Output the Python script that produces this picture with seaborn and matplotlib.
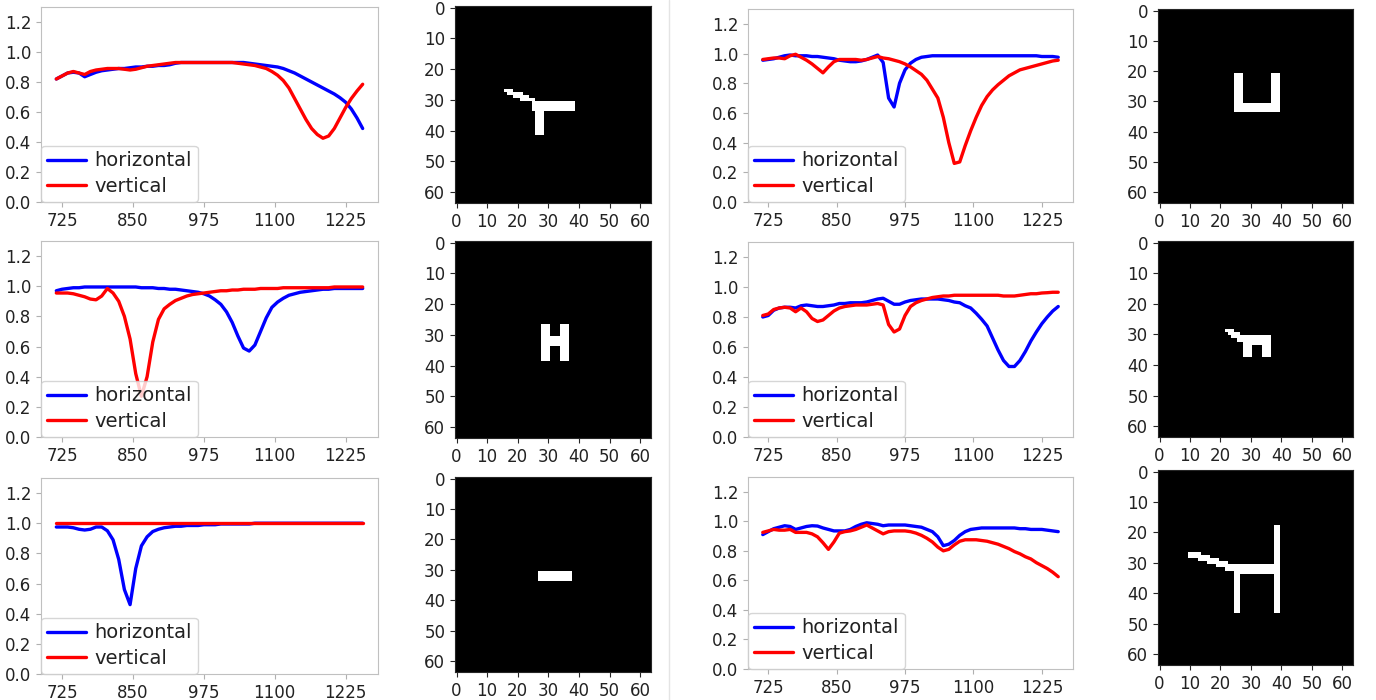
import numpy as np
import seaborn as sns
import matplotlib.pyplot as plt
from matplotlib.lines import Line2D

sns.set_style("white")
plt.rcParams['font.family'] = ['DejaVu Sans']

# wavelength grid shared by every transmission curve
wavelengths = list(range(715, 1256, 10))
xtick_vals = [725, 850, 975, 1100, 1225]
ytick_vals = [0.0, 0.2, 0.4, 0.6, 0.8, 1.0, 1.2]

# --- curves (horizontal / vertical polarisation) ---
bend_h = [0.82, 0.84, 0.86, 0.865, 0.86, 0.835, 0.85, 0.865, 0.875, 0.88, 0.885,
          0.89, 0.89, 0.895, 0.90, 0.90, 0.905, 0.905, 0.91, 0.91, 0.915, 0.925,
          0.93, 0.93, 0.93, 0.93, 0.93, 0.93, 0.93, 0.93, 0.93, 0.93, 0.93,
          0.93, 0.925, 0.92, 0.915, 0.91, 0.905, 0.90, 0.89, 0.875, 0.86, 0.84,
          0.82, 0.80, 0.78, 0.76, 0.74, 0.72, 0.695, 0.665, 0.62, 0.56, 0.49]
bend_v = [0.82, 0.84, 0.86, 0.87, 0.86, 0.85, 0.87, 0.88, 0.885, 0.89, 0.89,
          0.89, 0.885, 0.88, 0.885, 0.895, 0.905, 0.91, 0.915, 0.92, 0.925, 0.93,
          0.93, 0.93, 0.93, 0.93, 0.93, 0.93, 0.93, 0.93, 0.93, 0.93, 0.925,
          0.92, 0.915, 0.91, 0.90, 0.89, 0.87, 0.845, 0.81, 0.76, 0.69, 0.62,
          0.55, 0.49, 0.45, 0.425, 0.44, 0.49, 0.56, 0.63, 0.69, 0.74, 0.785]

u_h = [0.955, 0.96, 0.965, 0.975, 0.985, 0.99, 0.985, 0.985, 0.985, 0.98, 0.98,
       0.975, 0.97, 0.965, 0.955, 0.95, 0.945, 0.945, 0.95, 0.96, 0.975, 0.99,
       0.94, 0.70, 0.64, 0.80, 0.89, 0.935, 0.96, 0.975, 0.98, 0.985, 0.985,
       0.985, 0.985, 0.985, 0.985, 0.985, 0.985, 0.985, 0.985, 0.985, 0.985, 0.985,
       0.985, 0.985, 0.985, 0.985, 0.985, 0.985, 0.985, 0.98, 0.98, 0.98, 0.975]
u_v = [0.96, 0.965, 0.97, 0.97, 0.965, 0.985, 0.995, 0.975, 0.955, 0.93, 0.90,
       0.87, 0.91, 0.945, 0.96, 0.96, 0.96, 0.96, 0.955, 0.96, 0.97, 0.98,
       0.97, 0.965, 0.955, 0.945, 0.93, 0.91, 0.885, 0.86, 0.82, 0.76, 0.70,
       0.57, 0.40, 0.26, 0.27, 0.38, 0.48, 0.57, 0.65, 0.71, 0.755, 0.79,
       0.82, 0.85, 0.87, 0.89, 0.90, 0.91, 0.92, 0.93, 0.94, 0.95, 0.955]

hshape_h = [0.97, 0.98, 0.985, 0.99, 0.99, 0.995, 0.995, 0.995, 0.995, 0.995, 0.995,
            0.995, 0.995, 0.995, 0.995, 0.99, 0.99, 0.99, 0.985, 0.985, 0.98, 0.98,
            0.975, 0.97, 0.965, 0.96, 0.95, 0.935, 0.91, 0.88, 0.83, 0.76, 0.67,
            0.59, 0.57, 0.61, 0.70, 0.79, 0.86, 0.895, 0.92, 0.94, 0.95, 0.96,
            0.965, 0.97, 0.975, 0.98, 0.98, 0.985, 0.985, 0.985, 0.985, 0.985, 0.985]
hshape_v = [0.955, 0.955, 0.955, 0.95, 0.94, 0.93, 0.915, 0.91, 0.935, 0.985, 0.955,
            0.90, 0.80, 0.65, 0.42, 0.27, 0.40, 0.63, 0.78, 0.85, 0.88, 0.905,
            0.92, 0.935, 0.945, 0.95, 0.955, 0.96, 0.965, 0.97, 0.97, 0.975, 0.975,
            0.98, 0.98, 0.98, 0.985, 0.985, 0.985, 0.985, 0.99, 0.99, 0.99, 0.99,
            0.99, 0.99, 0.99, 0.99, 0.99, 0.995, 0.995, 0.995, 0.995, 0.995, 0.995]

dog_h = [0.80, 0.81, 0.845, 0.86, 0.865, 0.865, 0.86, 0.875, 0.88, 0.875, 0.87,
         0.87, 0.875, 0.88, 0.89, 0.89, 0.895, 0.895, 0.895, 0.90, 0.91, 0.92,
         0.925, 0.905, 0.885, 0.885, 0.90, 0.91, 0.915, 0.92, 0.92, 0.92, 0.92,
         0.915, 0.91, 0.90, 0.895, 0.875, 0.86, 0.825, 0.785, 0.74, 0.66, 0.58,
         0.51, 0.47, 0.47, 0.51, 0.57, 0.64, 0.70, 0.755, 0.80, 0.84, 0.87]
dog_v = [0.81, 0.82, 0.85, 0.86, 0.865, 0.86, 0.835, 0.86, 0.835, 0.79, 0.77,
         0.78, 0.81, 0.84, 0.86, 0.87, 0.875, 0.88, 0.88, 0.88, 0.885, 0.89,
         0.88, 0.75, 0.70, 0.72, 0.81, 0.87, 0.895, 0.91, 0.92, 0.93, 0.935,
         0.94, 0.94, 0.945, 0.945, 0.945, 0.945, 0.945, 0.945, 0.945, 0.945, 0.945,
         0.94, 0.94, 0.94, 0.945, 0.95, 0.955, 0.955, 0.96, 0.962, 0.965, 0.965]

dash_h = [0.975, 0.975, 0.975, 0.97, 0.96, 0.955, 0.96, 0.975, 0.975, 0.95, 0.89,
          0.76, 0.56, 0.46, 0.70, 0.85, 0.91, 0.945, 0.96, 0.97, 0.975, 0.98,
          0.98, 0.985, 0.985, 0.985, 0.99, 0.99, 0.99, 0.995, 0.995, 0.995, 0.995,
          0.995, 0.995, 1.0, 1.0, 1.0, 1.0, 1.0, 1.0, 1.0, 1.0, 1.0,
          1.0, 1.0, 1.0, 1.0, 1.0, 1.0, 1.0, 1.0, 1.0, 1.0, 1.0]
dash_v = [1.0, 1.0, 1.0, 1.0, 1.0, 1.0, 1.0, 1.0, 1.0, 1.0, 1.0,
          1.0, 1.0, 1.0, 1.0, 1.0, 1.0, 1.0, 1.0, 1.0, 1.0, 1.0,
          1.0, 1.0, 1.0, 1.0, 1.0, 1.0, 1.0, 1.0, 1.0, 1.0, 1.0,
          1.0, 1.0, 1.0, 1.0, 1.0, 1.0, 1.0, 1.0, 1.0, 1.0, 1.0,
          1.0, 1.0, 1.0, 1.0, 1.0, 1.0, 1.0, 1.0, 1.0, 1.0, 1.0]

hook_h = [0.91, 0.93, 0.95, 0.96, 0.97, 0.965, 0.945, 0.955, 0.965, 0.97, 0.968,
          0.955, 0.945, 0.935, 0.935, 0.935, 0.945, 0.965, 0.98, 0.99, 0.985, 0.98,
          0.97, 0.975, 0.975, 0.975, 0.975, 0.97, 0.965, 0.96, 0.945, 0.93, 0.895,
          0.835, 0.845, 0.87, 0.905, 0.93, 0.945, 0.95, 0.955, 0.955, 0.955, 0.955,
          0.955, 0.955, 0.955, 0.95, 0.95, 0.945, 0.945, 0.945, 0.94, 0.935, 0.93]
hook_v = [0.925, 0.935, 0.945, 0.94, 0.94, 0.945, 0.925, 0.925, 0.925, 0.915, 0.895,
          0.855, 0.81, 0.86, 0.92, 0.93, 0.935, 0.945, 0.96, 0.975, 0.955, 0.935,
          0.915, 0.93, 0.935, 0.935, 0.935, 0.93, 0.92, 0.905, 0.885, 0.86, 0.825,
          0.80, 0.81, 0.84, 0.865, 0.875, 0.875, 0.875, 0.87, 0.865, 0.855, 0.845,
          0.83, 0.815, 0.795, 0.78, 0.76, 0.745, 0.72, 0.70, 0.68, 0.655, 0.625]

# --- 64x64 binary shapes: (row_start, row_end, col_start, col_end), inclusive ---
bend_shape = [(31, 33, 25, 38), (34, 41, 26, 28),
              (27, 27, 16, 18), (28, 28, 17, 21), (29, 29, 19, 23), (30, 30, 21, 25)]
u_shape = [(21, 33, 25, 27), (21, 33, 37, 39), (31, 33, 25, 39)]
h_shape = [(27, 38, 28, 30), (27, 38, 34, 36), (31, 33, 31, 33)]
dog_shape = [(29, 29, 22, 24), (30, 30, 23, 26), (31, 31, 24, 36), (32, 32, 26, 36),
             (33, 33, 28, 36), (34, 37, 28, 30), (34, 37, 34, 36)]
dash_shape = [(31, 33, 27, 37)]
hook_shape = [(18, 46, 38, 39), (31, 33, 25, 37), (34, 46, 25, 26),
              (27, 27, 10, 13), (28, 28, 10, 16), (29, 29, 13, 19),
              (30, 30, 16, 22), (31, 31, 19, 24), (32, 32, 22, 24)]

panels = [
    # (curve h, curve v, shape, line box px, image box px)  boxes: left, top, right, bottom
    (bend_h, bend_v, bend_shape, (41, 7, 378, 202), (455, 6, 651, 203)),
    (hshape_h, hshape_v, h_shape, (41, 241, 378, 437), (455, 241, 651, 438)),
    (dash_h, dash_v, dash_shape, (41, 478, 378, 674), (455, 477, 651, 672)),
    (u_h, u_v, u_shape, (748, 9, 1073, 202), (1158, 9, 1353, 203)),
    (dog_h, dog_v, dog_shape, (748, 242, 1073, 437), (1158, 241, 1353, 437)),
    (hook_h, hook_v, hook_shape, (748, 477, 1073, 669), (1158, 470, 1353, 665)),
]

W, H = 1376, 700
fig = plt.figure(figsize=(W / 100, H / 100), dpi=100)


def box_to_rect(box):
    l, t, r, b = box
    return [l / W, 1 - b / H, (r - l) / W, (b - t) / H]


def make_image(rects):
    img = np.zeros((64, 64))
    for r0, r1, c0, c1 in rects:
        img[r0:r1 + 1, c0:c1 + 1] = 1
    return img


for h_vals, v_vals, shape, line_box, img_box in panels:
    ax = fig.add_axes(box_to_rect(line_box))
    sns.lineplot(x=wavelengths, y=h_vals, ax=ax, color='blue', linewidth=2.4, label='horizontal')
    sns.lineplot(x=wavelengths, y=v_vals, ax=ax, color='red', linewidth=2.4, label='vertical')
    ax.set_ylim(0, 1.3)
    ax.set_xticks(xtick_vals)
    ax.set_yticks(ytick_vals)
    ax.set_yticklabels(['{:.1f}'.format(v) for v in ytick_vals])
    ax.tick_params(labelsize=12, length=3.5, color='#b0b0b0', labelcolor='#222222',
                   left=True, bottom=True)
    for sp in ax.spines.values():
        sp.set_color('#c0c0c0')
    leg = ax.legend(loc='lower left', borderaxespad=0, fontsize=14, handlelength=2.0,
                    handletextpad=0.45, borderpad=0.3, labelspacing=0.35)
    for t in leg.get_texts():
        t.set_color('#222222')

    ax2 = fig.add_axes(box_to_rect(img_box))
    ax2.imshow(make_image(shape), cmap='gray', vmin=0, vmax=1, aspect='auto',
               interpolation='nearest')
    ax2.set_xticks([0, 10, 20, 30, 40, 50, 60])
    ax2.set_yticks([0, 10, 20, 30, 40, 50, 60])
    ax2.tick_params(labelsize=12, length=3.5, labelcolor='#222222', left=True, bottom=True)

# faint divider between the two halves of the composite
fig.add_artist(Line2D([669 / W, 669 / W], [0, 1], color='#e4e4e4', linewidth=1))

fig.savefig('out.png', dpi=100)
